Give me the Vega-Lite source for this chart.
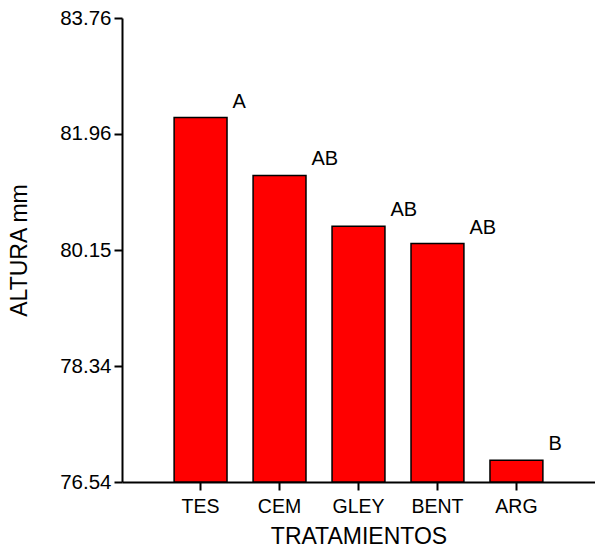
{
  "$schema": "https://vega.github.io/schema/vega-lite/v6.json",
  "width": 473,
  "height": 464,
  "autosize": {"type": "none"},
  "padding": {"left": 122, "top": 18, "right": 0, "bottom": 69},
  "background": "white",
  "config": {
    "view": {"stroke": null},
    "font": "Liberation Sans",
    "axis": {
      "domainColor": "black",
      "domainWidth": 2,
      "tickColor": "black",
      "tickWidth": 2,
      "tickSize": 8,
      "labelColor": "black",
      "titleColor": "black",
      "titleFontWeight": "normal",
      "grid": false
    }
  },
  "data": {
    "values": [
      {"tratamiento": "TES", "altura": 82.21, "grupo": "A"},
      {"tratamiento": "CEM", "altura": 81.31, "grupo": "AB"},
      {"tratamiento": "GLEY", "altura": 80.52, "grupo": "AB"},
      {"tratamiento": "BENT", "altura": 80.25, "grupo": "AB"},
      {"tratamiento": "ARG", "altura": 76.88, "grupo": "B"}
    ]
  },
  "encoding": {
    "x": {
      "field": "tratamiento",
      "type": "nominal",
      "sort": null,
      "scale": {"paddingInner": 0.33, "paddingOuter": 0.66},
      "axis": {
        "title": "TRATAMIENTOS",
        "labelAngle": 0,
        "labelFontSize": 19.5,
        "labelPadding": 7,
        "titleFontSize": 23,
        "titlePadding": 10
      }
    },
    "y": {
      "field": "altura",
      "type": "quantitative",
      "scale": {"domain": [76.54, 83.76], "nice": false, "zero": false},
      "axis": {
        "title": "ALTURA mm",
        "values": [76.54, 78.34, 80.15, 81.96, 83.76],
        "format": ".2f",
        "labelFontSize": 20.5,
        "labelPadding": 3,
        "titleFontSize": 23,
        "titlePadding": 28
      }
    }
  },
  "layer": [
    {
      "mark": {"type": "bar", "fill": "#ff0000", "stroke": "black", "strokeWidth": 1.5},
      "encoding": {"y2": {"datum": 76.54}}
    },
    {
      "mark": {
        "type": "text",
        "align": "left",
        "baseline": "alphabetic",
        "dx": 32,
        "dy": -10,
        "fontSize": 20,
        "color": "black"
      },
      "encoding": {"text": {"field": "grupo"}}
    }
  ]
}
